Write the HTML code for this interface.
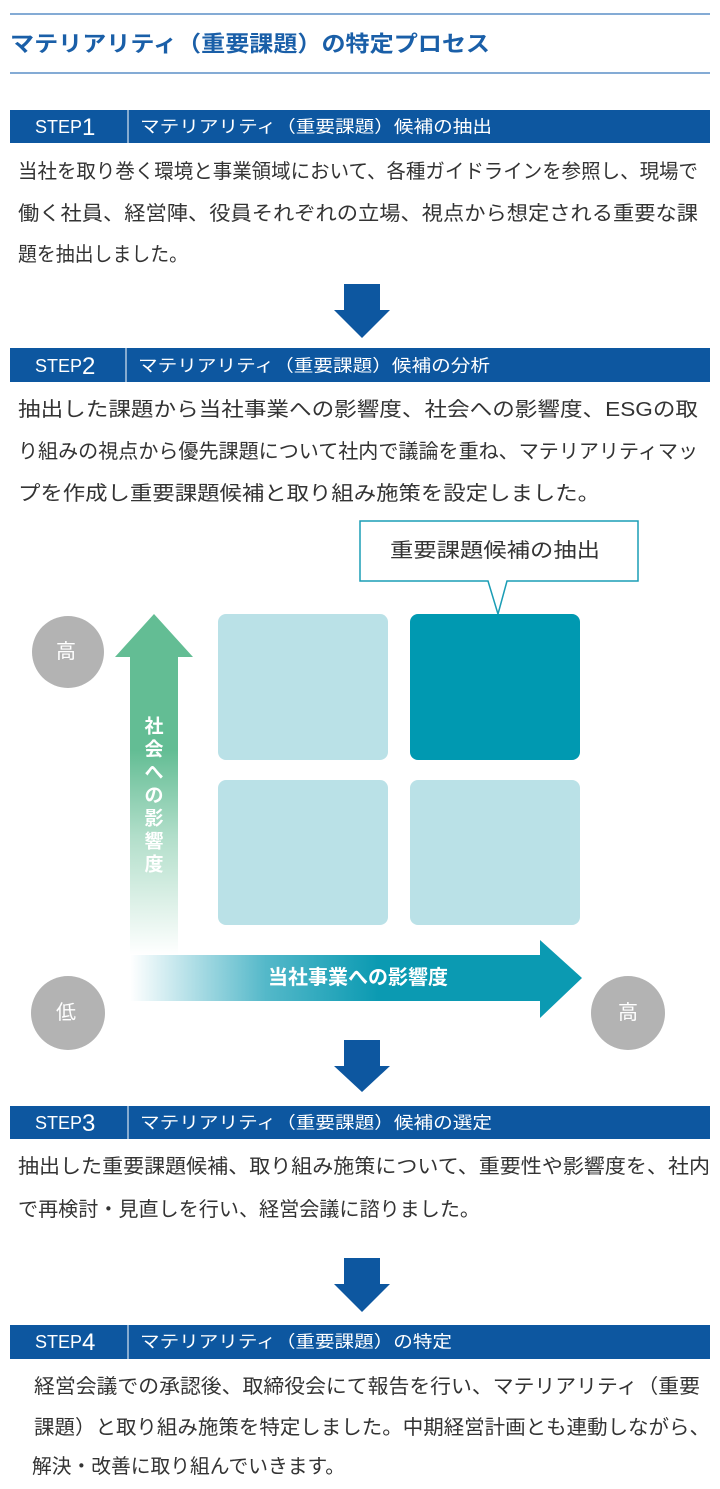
<!DOCTYPE html>
<html><head><meta charset="utf-8"><style>
html,body{margin:0;padding:0;background:#fff;width:720px;height:1489px;overflow:hidden}
svg{display:block;font-family:"Liberation Sans","Noto Sans CJK JP",sans-serif}
</style></head><body>
<svg width="720" height="1489" viewBox="0 0 720 1489" xmlns="http://www.w3.org/2000/svg">
<defs>
<linearGradient id="gv" x1="0" y1="1" x2="0" y2="0">
<stop offset="0" stop-color="#63bd94" stop-opacity="0"/>
<stop offset="0.35" stop-color="#63bd94" stop-opacity="0.5"/>
<stop offset="0.6" stop-color="#63bd94"/>
<stop offset="1" stop-color="#63bd94"/>
</linearGradient>
<linearGradient id="gh" x1="0" y1="0" x2="1" y2="0">
<stop offset="0" stop-color="#0b9ab2" stop-opacity="0"/>
<stop offset="0.3" stop-color="#0b9ab2" stop-opacity="0.7"/>
<stop offset="0.55" stop-color="#0b9ab2"/>
<stop offset="1" stop-color="#0b9ab2"/>
</linearGradient>
</defs>
<line x1="10" y1="14" x2="710" y2="14" stroke="#5b8fc7" stroke-width="1.5"/>
<line x1="10" y1="73" x2="710" y2="73" stroke="#5b8fc7" stroke-width="1.5"/>
<text x="10" y="44" dominant-baseline="central" font-size="22" font-weight="bold" fill="#1a5fa8" textLength="480" lengthAdjust="spacingAndGlyphs">マテリアリティ（重要課題）の特定プロセス</text>

<g id="steps" fill="#fff">
<rect x="10" y="110" width="700" height="33" fill="#0d57a0"/>
<line x1="128" y1="110" x2="128" y2="143" stroke="#fff" stroke-width="1"/>
<text x="35" y="127" dominant-baseline="central" font-size="18">STEP<tspan font-size="24">1</tspan></text>
<text x="140" y="127" dominant-baseline="central" font-size="17" textLength="352" lengthAdjust="spacingAndGlyphs">マテリアリティ（重要課題）候補の抽出</text>

<rect x="10" y="348" width="700" height="34" fill="#0d57a0"/>
<line x1="126" y1="348" x2="126" y2="382" stroke="#fff" stroke-width="1"/>
<text x="35" y="366" dominant-baseline="central" font-size="18">STEP<tspan font-size="24">2</tspan></text>
<text x="138" y="366" dominant-baseline="central" font-size="17" textLength="352" lengthAdjust="spacingAndGlyphs">マテリアリティ（重要課題）候補の分析</text>

<rect x="10" y="1106" width="700" height="33" fill="#0d57a0"/>
<line x1="128" y1="1106" x2="128" y2="1139" stroke="#fff" stroke-width="1"/>
<text x="35" y="1123" dominant-baseline="central" font-size="18">STEP<tspan font-size="24">3</tspan></text>
<text x="140" y="1123" dominant-baseline="central" font-size="17" textLength="352" lengthAdjust="spacingAndGlyphs">マテリアリティ（重要課題）候補の選定</text>

<rect x="10" y="1325" width="700" height="34" fill="#0d57a0"/>
<line x1="128" y1="1325" x2="128" y2="1359" stroke="#fff" stroke-width="1"/>
<text x="35" y="1342" dominant-baseline="central" font-size="18">STEP<tspan font-size="24">4</tspan></text>
<text x="140" y="1342" dominant-baseline="central" font-size="17" textLength="312" lengthAdjust="spacingAndGlyphs">マテリアリティ（重要課題）の特定</text>
</g>

<g fill="#333" font-size="20">
<text x="18" y="172" dominant-baseline="central" textLength="680" lengthAdjust="spacingAndGlyphs">当社を取り巻く環境と事業領域において、各種ガイドラインを参照し、現場で</text>
<text x="18" y="214" dominant-baseline="central" textLength="680" lengthAdjust="spacingAndGlyphs">働く社員、経営陣、役員それぞれの立場、視点から想定される重要な課</text>
<text x="18" y="255" dominant-baseline="central" textLength="170" lengthAdjust="spacingAndGlyphs">題を抽出しました。</text>

<text x="18" y="410" dominant-baseline="central" textLength="680" lengthAdjust="spacingAndGlyphs">抽出した課題から当社事業への影響度、社会への影響度、ESGの取</text>
<text x="18" y="452" dominant-baseline="central" textLength="680" lengthAdjust="spacingAndGlyphs">り組みの視点から優先課題について社内で議論を重ね、マテリアリティマッ</text>
<text x="18" y="494" dominant-baseline="central" textLength="582" lengthAdjust="spacingAndGlyphs">プを作成し重要課題候補と取り組み施策を設定しました。</text>

<text x="18" y="1167" dominant-baseline="central" textLength="692" lengthAdjust="spacingAndGlyphs">抽出した重要課題候補、取り組み施策について、重要性や影響度を、社内</text>
<text x="18" y="1210" dominant-baseline="central" textLength="462" lengthAdjust="spacingAndGlyphs">で再検討・見直しを行い、経営会議に諮りました。</text>

<text x="34" y="1387" dominant-baseline="central" textLength="666" lengthAdjust="spacingAndGlyphs">経営会議での承認後、取締役会にて報告を行い、マテリアリティ（重要</text>
<text x="34" y="1428" dominant-baseline="central" textLength="676" lengthAdjust="spacingAndGlyphs">課題）と取り組み施策を特定しました。中期経営計画とも連動しながら、</text>
<text x="32" y="1467" dominant-baseline="central" textLength="313" lengthAdjust="spacingAndGlyphs">解決・改善に取り組んでいきます。</text>
</g>

<g fill="#0d57a0">
<polygon points="344,284 380,284 380,310 390,310 362,338 334,310 344,310"/>
<polygon points="344,1040 380,1040 380,1066 390,1066 362,1092 334,1066 344,1066"/>
<polygon points="344,1258 380,1258 380,1284 390,1284 362,1312 334,1284 344,1284"/>
</g>

<polygon points="360,521 638,521 638,581 507,581 498,614 488,581 360,581" fill="#fff" stroke="#1a9db5" stroke-width="1.5"/>
<text x="390" y="551" dominant-baseline="central" font-size="20" fill="#333" textLength="210" lengthAdjust="spacingAndGlyphs">重要課題候補の抽出</text>

<rect x="218" y="614" width="170" height="146" rx="8" fill="#bae1e7"/>
<rect x="410" y="614" width="170" height="146" rx="8" fill="#0099b1"/>
<rect x="218" y="780" width="170" height="145" rx="8" fill="#bae1e7"/>
<rect x="410" y="780" width="170" height="145" rx="8" fill="#bae1e7"/>

<polygon points="130,955 130,657 115,657 154,614 193,657 178,657 178,955" fill="url(#gv)"/>
<polygon points="130,955 540,955 540,940 582,978 540,1018 540,1001 130,1001" fill="url(#gh)"/>

<g fill="#fff" font-size="19" font-weight="bold" text-anchor="middle">
<text x="154" y="727" dominant-baseline="central">社</text>
<text x="154" y="750" dominant-baseline="central">会</text>
<text x="154" y="773" dominant-baseline="central">へ</text>
<text x="154" y="796" dominant-baseline="central">の</text>
<text x="154" y="819" dominant-baseline="central">影</text>
<text x="154" y="842" dominant-baseline="central">響</text>
<text x="154" y="865" dominant-baseline="central">度</text>
<text x="358" y="978" dominant-baseline="central" font-size="20">当社事業への影響度</text>
</g>

<g fill="#b3b3b3">
<circle cx="68" cy="652" r="36"/>
<circle cx="68" cy="1013" r="37"/>
<circle cx="628" cy="1013" r="37"/>
</g>
<g fill="#fff" font-size="20" text-anchor="middle">
<text x="66" y="652" dominant-baseline="central">高</text>
<text x="66" y="1013" dominant-baseline="central">低</text>
<text x="628" y="1013" dominant-baseline="central">高</text>
</g>
</svg>
</body></html>
